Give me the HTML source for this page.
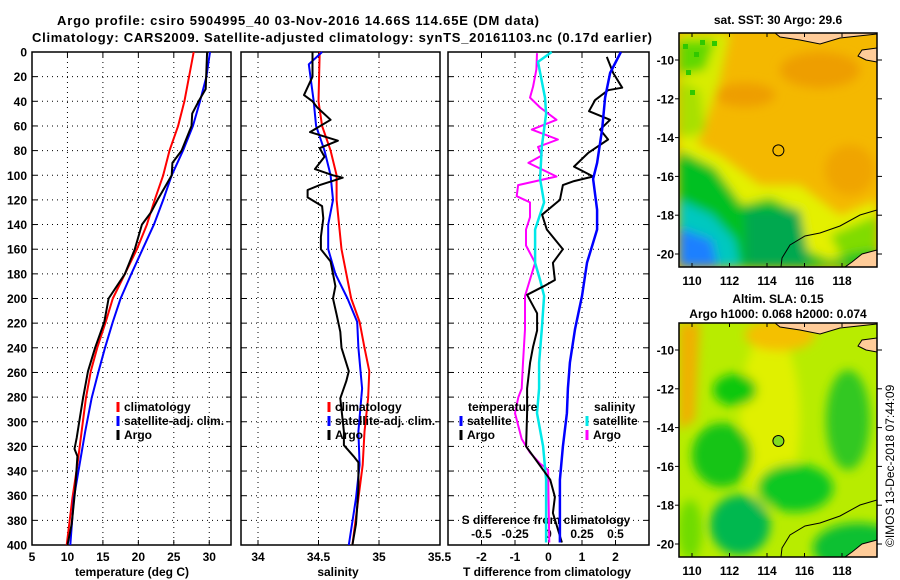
<!DOCTYPE html>
<html><head><meta charset="utf-8"><style>
html,body{margin:0;padding:0;background:#fff;}
svg{display:block;font-family:"Liberation Sans",sans-serif;font-weight:bold;}
</style></head><body>
<svg id="chart" width="900" height="580" viewBox="0 0 900 580" xmlns="http://www.w3.org/2000/svg">
<defs>
<filter id="blur4" x="-10%" y="-10%" width="120%" height="120%"><feGaussianBlur stdDeviation="5"/></filter>
<clipPath id="clipTop"><rect x="679" y="33" width="198" height="234"/></clipPath>
<clipPath id="clipBot"><rect x="679" y="323" width="198" height="234"/></clipPath>
</defs>
<text x="298" y="25" font-size="13" text-anchor="middle" textLength="482">Argo profile: csiro 5904995_40 03-Nov-2016 14.66S 114.65E (DM data)</text>
<text x="342" y="42" font-size="13" text-anchor="middle" textLength="620">Climatology: CARS2009. Satellite-adjusted climatology: synTS_20161103.nc (0.17d earlier)</text>
<g id="panels"></g>
<g id="maps">
 <g clip-path="url(#clipTop)">
  <rect x="679" y="33" width="198" height="234" fill="#f4b800"/>
  <g filter="url(#blur4)">
   <polygon points="679,33 730,33 720,80 700,140 679,150" fill="#d8ec00"/>
   <polygon points="679,40 715,40 705,70 679,75" fill="#60d800"/>
   <polygon points="679,80 700,90 705,130 679,140" fill="#a8e000"/>
   <ellipse cx="820" cy="70" rx="40" ry="18" fill="#ee9e00"/>
   <ellipse cx="745" cy="95" rx="30" ry="12" fill="#ee9e00"/>
   <ellipse cx="850" cy="170" rx="25" ry="25" fill="#f0a400"/>
   <polygon points="679,135 720,155 760,185 800,185 840,215 877,200 877,267 679,267" fill="#e4f000"/>
   <polygon points="679,150 715,168 742,205 770,198 795,210 805,250 830,260 877,245 877,267 679,267" fill="#00c020"/>
   <polygon points="830,235 877,215 877,250 840,255" fill="#80dc00"/>
   <polygon points="679,200 712,215 735,240 740,267 679,267" fill="#00c8c0"/>
   <polygon points="679,228 712,240 718,267 679,267" fill="#1a80ff"/>
   <polygon points="745,210 800,210 810,267 745,267" fill="#00a850"/>
  </g>
  <g fill="#30c800">
   <rect x="683" y="44" width="5" height="5"/><rect x="694" y="52" width="5" height="5"/><rect x="700" y="40" width="5" height="5"/>
   <rect x="686" y="70" width="5" height="5"/><rect x="712" y="41" width="5" height="5"/><rect x="690" y="90" width="5" height="5"/>
  </g>
  <path d="M775,33 L780,37 L800,40 L820,44 L840,38 L877,34 L877,33 Z" fill="#ffcc99" stroke="#000" stroke-width="1"/>
  <path d="M877,48 L862,50 L858,56 L866,60 L877,62 Z" fill="#ffcc99" stroke="#000" stroke-width="1"/>
  <path d="M877,250 L862,254 L852,262 L845,267 L877,267 Z" fill="#ffcc99" stroke="#000" stroke-width="1"/>
  <path d="M877,210 L860,215 L840,226 L820,233 L805,236 L790,245 L782,258 L781,267" fill="none" stroke="#000" stroke-width="1"/>
  <circle cx="778.4" cy="150.4" r="5.5" fill="none" stroke="#000" stroke-width="1"/>
 </g>
 <rect x="679" y="33" width="198" height="234" fill="none" stroke="#000" stroke-width="1.5"/>
 <g clip-path="url(#clipBot)">
  <rect x="679" y="323" width="198" height="234" fill="#b8ec00"/>
  <g filter="url(#blur4)">
   <ellipse cx="770" cy="420" rx="30" ry="90" fill="#e0f000"/>
   <polygon points="679,323 700,323 695,420 679,430" fill="#f0b000"/>
   <ellipse cx="780" cy="335" rx="35" ry="16" fill="#f4c000"/>
   <ellipse cx="735" cy="390" rx="22" ry="16" fill="#10c810"/>
   <ellipse cx="722" cy="455" rx="30" ry="32" fill="#18c418"/>
   <ellipse cx="795" cy="488" rx="38" ry="24" fill="#10c820"/>
   <ellipse cx="848" cy="420" rx="22" ry="50" fill="#30c820"/>
   <ellipse cx="740" cy="525" rx="30" ry="30" fill="#00b850"/>
   <ellipse cx="858" cy="548" rx="45" ry="25" fill="#10c030"/>
   <ellipse cx="690" cy="530" rx="12" ry="30" fill="#70dc00"/>
  </g>
  <path d="M775,323 L780,327 L800,330 L820,334 L840,328 L877,324 L877,323 Z" fill="#ffcc99" stroke="#000" stroke-width="1"/>
  <path d="M877,338 L862,340 L858,346 L866,350 L877,352 Z" fill="#ffcc99" stroke="#000" stroke-width="1"/>
  <path d="M877,540 L862,544 L852,552 L845,557 L877,557 Z" fill="#ffcc99" stroke="#000" stroke-width="1"/>
  <path d="M877,500 L860,505 L840,516 L820,523 L805,526 L790,535 L782,548 L781,557" fill="none" stroke="#000" stroke-width="1"/>
  <circle cx="778.4" cy="441" r="5.5" fill="#80dc20" stroke="#000" stroke-width="1"/>
 </g>
 <rect x="679" y="323" width="198" height="234" fill="none" stroke="#000" stroke-width="1.5"/>
 <text x="778" y="24" font-size="12" text-anchor="middle">sat. SST: 30 Argo: 29.6</text>
 <text x="778" y="303" font-size="12" text-anchor="middle">Altim. SLA: 0.15</text>
 <text x="778" y="318" font-size="12" text-anchor="middle">Argo h1000: 0.068 h2000: 0.074</text>
 <text x="894" y="547" font-size="12" font-weight="normal" transform="rotate(-90 894 547)">©IMOS 13-Dec-2018 07:44:09</text>
 <g id="mapticks"></g>
</g>
</svg>
<script>
// ---- data: temperature panel ----
const tClimDepth = [0,40,60,80,100,120,140,160,180,200,219,240,259,281,308,335,362,400];
const tClimVal   = [27.8,26.5,25.6,24.4,23.5,22.3,21.2,19.8,18.1,16.4,15.4,14.2,13.3,12.6,12.0,11.4,10.7,9.9];
const tSatDepth  = [0,20,40,60,80,100,120,140,160,180,200,219,240,259,281,308,335,362,400];
const tSatVal    = [30.1,29.6,28.7,27.7,26.3,24.7,23.5,22.2,20.6,19.0,17.5,16.4,15.3,14.4,13.4,12.5,11.7,10.9,10.4];
const tArgoDepth = [0,30,40,50,60,80,90,100,110,120,130,140,160,180,200,219,240,259,281,295,313,322,328,355,383,400];
const tArgoVal   = [29.7,29.5,28.5,27.6,27.5,26.1,24.8,24.7,23.7,22.7,21.8,20.5,19.5,18.1,15.8,15.2,13.9,12.9,12.2,11.8,11.3,11.0,11.4,11.1,10.6,10.0];
// ---- data: salinity panel ----
const sClimDepth = [0,40,60,80,100,120,160,200,219,240,259,281,308,335,362,400];
const sClimVal   = [34.51,34.50,34.53,34.60,34.65,34.65,34.69,34.77,34.84,34.88,34.92,34.91,34.88,34.865,34.83,34.78];
const sSatDepth  = [0,10,40,60,80,100,120,140,160,180,200,219,240,273,308,335,362,400];
const sSatVal    = [34.53,34.42,34.46,34.48,34.55,34.60,34.62,34.58,34.58,34.64,34.74,34.82,34.83,34.86,34.83,34.84,34.81,34.75];
const sArgoDepth = [0,20,35,40,45,55,65,72,78,85,95,100,102,108,112,118,125,135,150,160,170,190,200,213,227,240,259,267,281,308,319,328,333,355,383,400];
const sArgoVal   = [34.45,34.45,34.38,34.45,34.49,34.60,34.43,34.66,34.51,34.55,34.47,34.62,34.70,34.51,34.41,34.41,34.53,34.54,34.52,34.52,34.60,34.64,34.62,34.65,34.68,34.69,34.75,34.73,34.68,34.71,34.71,34.79,34.83,34.83,34.81,34.78];
// ---- data: difference panel ----
const dtSatDepth  = [0,17,37,63,90,103,128,144,171,198,225,252,273,293,320,347,398];
const dtSatVal    = [2.16,1.84,1.69,1.60,1.45,1.33,1.45,1.45,1.15,1.00,0.79,0.64,0.58,0.55,0.43,0.34,0.34];
const dtArgoDepth = [4,17,29,31,39,48,55,63,71,82,93,101,105,108,120,132,144,160,171,185,190,197,212,226,239,252,273,293,320,347,361,374,398];
const dtArgoVal   = [1.74,1.93,2.20,1.78,1.39,1.21,1.84,1.54,1.78,1.18,0.76,1.33,0.73,0.43,0.34,-0.19,-0.05,0.43,0.13,0.19,-0.14,-0.64,-0.34,-0.34,-0.46,-0.55,-0.64,-0.64,-0.67,0.05,0.19,0.13,0.40];
const dsSatDepth  = [0,8,37,50,77,103,122,144,171,185,198,225,252,273,293,320,347,398];
const dsSatVal    = [0.024,-0.078,-0.026,-0.018,-0.05,-0.063,-0.033,-0.10,-0.10,-0.063,-0.033,-0.05,-0.07,-0.07,-0.086,-0.04,-0.018,-0.018];
const dsArgoDepth = [1,14,28,37,45,55,63,71,77,84,90,101,108,117,122,134,144,157,171,198,225,252,273,280,293,314,325,334,339,361,398];
const dsArgoVal   = [-0.086,-0.09,-0.115,-0.138,-0.063,0.06,-0.125,0.07,-0.078,-0.05,-0.15,0.06,-0.227,-0.237,-0.138,-0.138,-0.168,-0.168,-0.10,-0.175,-0.175,-0.19,-0.2,-0.225,-0.25,-0.2,-0.138,-0.063,-0.003,0.0,0.006];
// ---- tick labels ----
const depthTicks = [0,20,40,60,80,100,120,140,160,180,200,220,240,260,280,300,320,340,360,380,400];
const tTicks = [5,10,15,20,25,30];
const sTicks = ["34","34.5","35","35.5"];
const dtTicks = ["-2","-1","0","1","2"];
const dsTicks = ["-0.5","-0.25","0","0.25","0.5"];
const lonTicks = [110,112,114,116,118];
const latTicks = [-10,-12,-14,-16,-18,-20];

const NS = "http://www.w3.org/2000/svg";
const TOP = 52, BOT = 545;
const yD = d => TOP + d * (BOT - TOP) / 400;
const xT = t => 32 + (t - 5) * 7.09;
const xS = s => 258 + (s - 34) * 121;
const xDT = t => 548.5 + 33.5 * t;
const xDS = s => 548.5 + 134 * s;
const root = document.getElementById('panels');
function mk(tag, attrs, parent) {
  const e = document.createElementNS(NS, tag);
  for (const k in attrs) e.setAttribute(k, attrs[k]);
  (parent || root).appendChild(e);
  return e;
}
function txt(x, y, s, anchor, size, name, parent) {
  const e = mk('text', {x: x, y: y, 'font-size': size || 12, 'text-anchor': anchor || 'middle'}, parent);
  e.textContent = s;
  
  
  return e;
}
const panels = [[32,231],[241,440],[448,649]];
panels.forEach((p, i) => {
  depthTicks.forEach(d => {
    if (d === 0 || d === 400) return;
    const g = mk('line', {x1: p[0], x2: p[1], y1: yD(d), y2: yD(d), stroke: '#000', 'stroke-width': 1, 'stroke-dasharray': '1 4'});
    
    
    const t1 = mk('line', {x1: p[0], x2: p[0] + 5, y1: yD(d), y2: yD(d), stroke: '#000'});
    
    
    const t2 = mk('line', {x1: p[1] - 5, x2: p[1], y1: yD(d), y2: yD(d), stroke: '#000'});
    
    
  });
});
function vgrid(xs) {
  xs.forEach(x => {
    const g = mk('line', {x1: x, x2: x, y1: TOP, y2: BOT, stroke: '#000', 'stroke-width': 1, 'stroke-dasharray': '1 4'});
    
    
    const a = mk('line', {x1: x, x2: x, y1: TOP, y2: TOP + 5, stroke: '#000'});
    
    
    const b = mk('line', {x1: x, x2: x, y1: BOT - 5, y2: BOT, stroke: '#000'});
    
    
  });
}
vgrid(tTicks.slice(1).map(xT));
vgrid(sTicks.slice(0, 3).map(s => xS(parseFloat(s))));
vgrid(dtTicks.map(s => xDT(parseFloat(s))));
panels.forEach((p, i) => {
  const r = mk('rect', {x: p[0], y: TOP, width: p[1] - p[0], height: BOT - TOP, fill: 'none', stroke: '#000', 'stroke-width': 1.5});
  
  
});
depthTicks.forEach(d => txt(27, yD(d) + 4.5, String(d), 'end', 12, 'y-tick-label'));
tTicks.forEach(t => txt(xT(t), 561, String(t), 'middle', 12, 'x-tick-label-temperature'));
sTicks.forEach(s => txt(xS(parseFloat(s)), 561, s, 'middle', 12, 'x-tick-label-salinity'));
dtTicks.forEach(s => txt(xDT(parseFloat(s)), 561, s, 'middle', 12, 'x-tick-label-t-diff'));
dsTicks.forEach(s => txt(xDS(parseFloat(s)), 538, s, 'middle', 12, 'x-tick-label-s-diff'));
txt(132, 576, 'temperature (deg C)', 'middle', 12, 'x-axis-title-temperature');
txt(338, 576, 'salinity', 'middle', 12, 'x-axis-title-salinity');
txt(547, 576, 'T difference from climatology', 'middle', 12, 'x-axis-title-t-diff');
txt(546, 524, 'S difference from climatology', 'middle', 12, 'x-axis-title-s-diff');
function series(depths, vals, xf, color, name, w) {
  const pts = depths.map((d, i) => xf(vals[i]).toFixed(1) + ',' + yD(d).toFixed(1)).join(' ');
  const l = mk('polyline', {points: pts, fill: 'none', stroke: color, 'stroke-width': w || 2, 'stroke-linejoin': 'round'});
  
  
}
series(tClimDepth, tClimVal, xT, '#ff0000', 'temperature-climatology-line');
series(tSatDepth, tSatVal, xT, '#0000ff', 'temperature-satellite-line');
series(tArgoDepth, tArgoVal, xT, '#000000', 'temperature-argo-line');
series(sClimDepth, sClimVal, xS, '#ff0000', 'salinity-climatology-line');
series(sSatDepth, sSatVal, xS, '#0000ff', 'salinity-satellite-line');
series(sArgoDepth, sArgoVal, xS, '#000000', 'salinity-argo-line');
series(dsArgoDepth, dsArgoVal, xDS, '#ff00ff', 's-diff-argo-line');
series(dsSatDepth, dsSatVal, xDS, '#00e8e8', 's-diff-satellite-line', 2.5);
series(dtArgoDepth, dtArgoVal, xDT, '#000000', 't-diff-argo-line');
series(dtSatDepth, dtSatVal, xDT, '#0000ff', 't-diff-satellite-line', 2.5);
function legItem(x, y, color, label, name) {
  if (color) {
    const m = mk('line', {x1: x, x2: x, y1: y - 9, y2: y + 1, stroke: color, 'stroke-width': 3});
    
    
  }
  txt(x + 6, y, label, 'start', 12, name);
}
legItem(118, 411, '#ff0000', 'climatology', 'legend-climatology');
legItem(118, 425, '#0000ff', 'satellite-adj. clim.', 'legend-satellite-adj');
legItem(118, 439, '#000000', 'Argo', 'legend-argo');
legItem(329, 411, '#ff0000', 'climatology', 'legend-climatology-sal');
legItem(329, 425, '#0000ff', 'satellite-adj. clim.', 'legend-satellite-adj-sal');
legItem(329, 439, '#000000', 'Argo', 'legend-argo-sal');
txt(468, 411, 'temperature', 'start', 12, 'legend-temperature-heading');
legItem(461, 425, '#0000ff', 'satellite', 'legend-t-satellite');
legItem(461, 439, '#000000', 'Argo', 'legend-t-argo');
txt(594, 411, 'salinity', 'start', 12, 'legend-salinity-heading');
legItem(587, 425, '#00e8e8', 'satellite', 'legend-s-satellite');
legItem(587, 439, '#ff00ff', 'Argo', 'legend-s-argo');
const mg = document.getElementById('mapticks');
const lonX = lo => 692 + (lo - 110) * 18.75;
[[33, 267, 60], [323, 557, 350]].forEach(m => {
  lonTicks.forEach(lo => {
    const x = lonX(lo);
    mk('line', {x1: x, x2: x, y1: m[0], y2: m[0] + 4, stroke: '#000'}, mg);
    mk('line', {x1: x, x2: x, y1: m[1] - 4, y2: m[1], stroke: '#000'}, mg);
    txt(x, m[1] + 18, String(lo), 'middle', 12, 'map-lon-label', mg);
  });
  latTicks.forEach(la => {
    const y = m[2] + (-10 - la) * 19.4;
    mk('line', {x1: 675, x2: 679, y1: y, y2: y, stroke: '#000'}, mg);
    mk('line', {x1: 877, x2: 882, y1: y, y2: y, stroke: '#000'}, mg);
    txt(674, y + 4.5, String(la), 'end', 12, 'map-lat-label', mg);
  });
});
</script>
</body></html>
